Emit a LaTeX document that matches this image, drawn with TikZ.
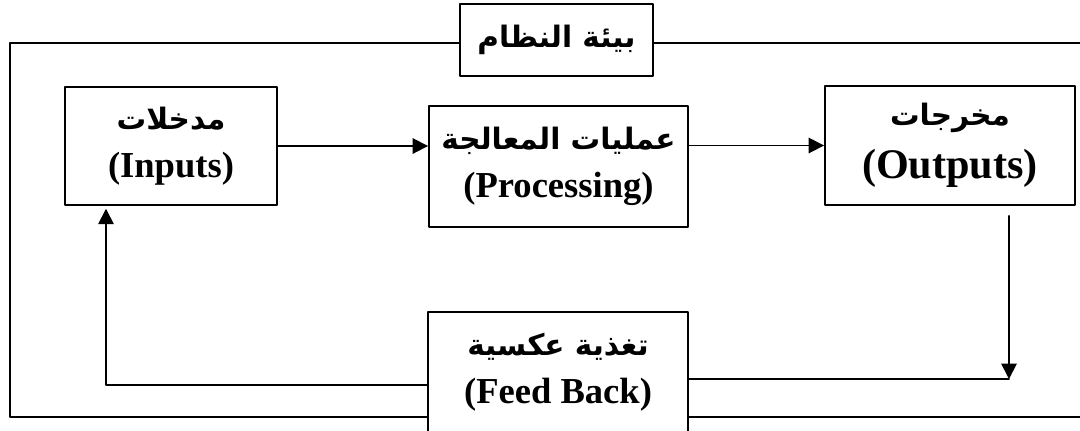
\documentclass[tikz,border=0pt]{standalone}
\usepackage{fontspec}
\setmainfont{Liberation Serif}
\newfontfamily\arabicfont[Script=Arabic]{DejaVu Sans}
\TeXXeTstate=1
\usetikzlibrary{arrows.meta}
\usetikzlibrary{positioning}

\newcommand{\artxt}[1]{{\arabicfont\fontsize{21}{30}\selectfont\beginR #1\endR}}

\begin{document}
\begin{tikzpicture}[line cap=round,line join=round,>={Triangle[length=11pt,width=11pt]},x=0.025cm,y=-0.025cm,
  block/.style={draw,line width=1.3pt,align=center,inner sep=0pt,font=\fontsize{26}{34}\selectfont\bfseries},
  link/.style={line width=1.3pt}]
\clip (0,0) rectangle (1080,430);
\fill[white] (0,0) rectangle (1080,430);

% the five boxes
\node[block,minimum width=4.825cm,minimum height=1.8cm] (env) at (556.5,40) {\artxt{بيئة النظام}};
\node[block,minimum width=5.3cm,minimum height=2.95cm] (inp) at (171,146) {\artxt{مدخلات}\\(Inputs)};
\node[block,minimum width=6.475cm,minimum height=3.025cm] (proc) at (558.5,166.5) {\artxt{عمليات المعالجة}\\(Processing)};
\node[block,minimum width=6.25cm,minimum height=2.975cm,font=\fontsize{30}{38}\selectfont\bfseries] (out) at (950,145.5) {\artxt{مخرجات}\\(Outputs)};
\node[block,minimum width=6.5cm,minimum height=3cm] (fb) at (558,372) {\artxt{تغذية عكسية}\\(Feed Back)};

% turning points
\coordinate (fbturn) at (1009,379);
\coordinate (rtturn) at (106,385);
\coordinate (tl) at (10,43);
\coordinate (bl) at (10,417);
\coordinate (br) at (1095,417);
\coordinate (tr) at (1095,43);

\draw[link,->] (inp.east) -- (proc.west |- inp.east);
\draw[link,->] (proc.east |- out.west) -- (out.west);
\draw[link,->,shorten <=0.25cm] (fbturn |- out.south) -- (fbturn);
\draw[link] (fb.east |- fbturn) -- (fbturn);
\draw[link,->,shorten >=0.07cm] (fb.west |- rtturn) -- (rtturn) -- (inp.south -| rtturn);

% environment frame
\draw[link] (env.west |- tl) -- (tl) -- (bl) -- (fb.west |- bl);
\draw[link] (fb.east |- bl) -- (br) -- (tr) -- (env.east |- tr);
\end{tikzpicture}
\end{document}
